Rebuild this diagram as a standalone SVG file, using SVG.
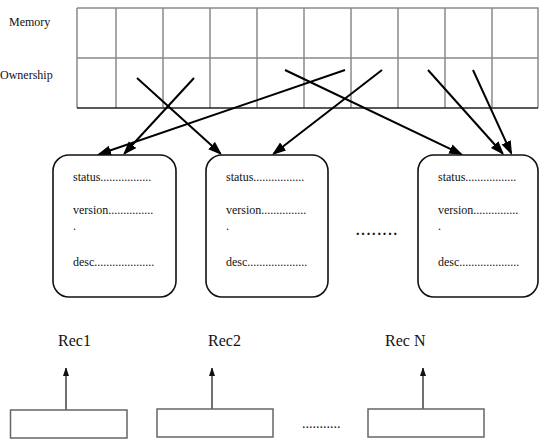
<svg xmlns="http://www.w3.org/2000/svg" width="539" height="442" viewBox="0 0 539 442">
<style>
text{font-family:"Liberation Serif","Times New Roman",serif;fill:#111}
.lbl{font-size:12px}
.fld{font-size:12px}
.rec{font-size:16px}
.grid{stroke:#8a8a8a;stroke-width:1.5;fill:none}
.box{fill:#fff;stroke:#111;stroke-width:1.6}
.conn{stroke:#000;stroke-width:2;fill:none;marker-end:url(#ah)}
.up{stroke:#111;stroke-width:1.2;fill:none;marker-end:url(#sh)}
.buf{fill:#fff;stroke:#666;stroke-width:1.5}
</style>
<defs>
<marker id="ah" markerUnits="userSpaceOnUse" markerWidth="15" markerHeight="11" refX="12" refY="5" orient="auto">
<path d="M0,0 L14,5 L0,10 Z" fill="#000"/>
</marker>
<marker id="sh" markerUnits="userSpaceOnUse" markerWidth="8" markerHeight="10" refX="8" refY="3" orient="auto">
<path d="M0,0 L9,3 L0,6 Z" fill="#111"/>
</marker>
</defs>
<rect width="539" height="442" fill="#fff"/>

<g id="memory-table">
<text class="lbl" x="9" y="26">Memory</text>
<text class="lbl" x="0" y="79">Ownership</text>
<path class="grid" d="M77,8 H538 V108 M77,8 V108 M77,58 H538 M116,8 V108 M163,8 V108 M210,8 V108 M257,8 V108 M304,8 V108 M351,8 V108 M398,8 V108 M445,8 V108 M492,8 V108"/>
<line x1="77" y1="108" x2="538" y2="108" stroke="#222" stroke-width="1.5"/>
</g>

<g id="connectors">
<line class="conn" x1="137" y1="78" x2="220.5" y2="153.6"/>
<line class="conn" x1="194" y1="78" x2="124.4" y2="153.5"/>
<line class="conn" x1="345" y1="70" x2="99" y2="154.3"/>
<line class="conn" x1="285" y1="70" x2="461.2" y2="154.1"/>
<line class="conn" x1="382" y1="70" x2="273.6" y2="153.8"/>
<line class="conn" x1="428" y1="70" x2="502.7" y2="153.5"/>
<line class="conn" x1="473" y1="70" x2="511.2" y2="153.2"/>
<line class="up" x1="66" y1="410" x2="66" y2="368"/>
<line class="up" x1="212" y1="410" x2="212" y2="368"/>
<line class="up" x1="423" y1="410" x2="423" y2="368"/>
</g>

<g id="rec1">
<rect class="box" x="53" y="155" width="123" height="142" rx="16"/>
<text class="fld" x="73" y="181">status.................</text>
<text class="fld" x="73" y="214">version...............</text>
<text class="fld" x="73" y="230">.</text>
<text class="fld" x="73" y="266">desc....................</text>
</g>
<g id="rec2">
<rect class="box" x="206" y="155" width="122" height="142" rx="16"/>
<text class="fld" x="226" y="181">status.................</text>
<text class="fld" x="226" y="214">version...............</text>
<text class="fld" x="226" y="230">.</text>
<text class="fld" x="226" y="266">desc....................</text>
</g>
<g id="ellipsis-mid">
<text x="356" y="235" font-size="14" font-weight="bold" textLength="41">........</text>
</g>
<g id="recN">
<rect class="box" x="418" y="155" width="120" height="142" rx="16"/>
<text class="fld" x="438" y="181">status.................</text>
<text class="fld" x="438" y="214">version...............</text>
<text class="fld" x="438" y="230">.</text>
<text class="fld" x="438" y="266">desc....................</text>
</g>

<g id="labels">
<text class="rec" x="58" y="346">Rec1</text>
<text class="rec" x="208" y="346">Rec2</text>
<text class="rec" x="385" y="346">Rec N</text>
</g>

<g id="buf1"><rect class="buf" x="10.5" y="410" width="116.5" height="28"/></g>
<g id="buf2"><rect class="buf" x="157" y="409" width="116" height="28"/></g>
<g id="ellipsis-bottom"><text x="302" y="428" font-size="14" fill="#444">...........</text></g>
<g id="buf3"><rect class="buf" x="368" y="409" width="116" height="28"/></g>
</svg>
